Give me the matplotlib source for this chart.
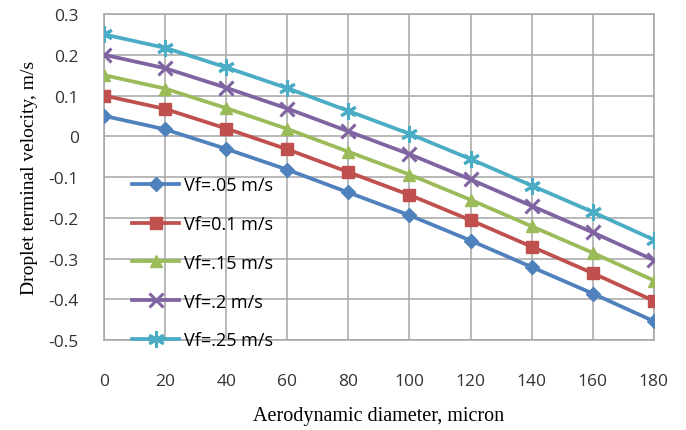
import matplotlib.pyplot as plt

# data
diameter = [0, 20, 40, 60, 80, 100, 120, 140, 160, 180]
vf_005 = [0.05, 0.017, -0.031, -0.082, -0.138, -0.194, -0.256, -0.321, -0.386, -0.454]
vf_010 = [0.10, 0.067, 0.019, -0.032, -0.088, -0.144, -0.206, -0.271, -0.336, -0.404]
vf_015 = [0.15, 0.117, 0.069, 0.018, -0.038, -0.094, -0.156, -0.221, -0.286, -0.354]
vf_020 = [0.20, 0.167, 0.119, 0.068, 0.012, -0.044, -0.106, -0.171, -0.236, -0.304]
vf_025 = [0.25, 0.217, 0.169, 0.118, 0.062, 0.006, -0.056, -0.121, -0.186, -0.254]
labels = ['Vf=.05 m/s', 'Vf=0.1 m/s', 'Vf=.15 m/s', 'Vf=.2 m/s', 'Vf=.25 m/s']
y_ticks = [0.3, 0.2, 0.1, 0, -0.1, -0.2, -0.3, -0.4, -0.5]
y_tick_labels = ['0.3', '0.2', '0.1', '0', '-0.1', '-0.2', '-0.3', '-0.4', '-0.5']

series = [vf_005, vf_010, vf_015, vf_020, vf_025]
colors = ['#4F81BD', '#C0504D', '#9BBB59', '#8064A2', '#4BACC6']
markers = ['D', 's', '^', 'x', (6, 2, 0)]
msizes = [7, 9, 9, 10, 12]

fig = plt.figure(figsize=(6.86, 4.31), dpi=100)
ax = fig.add_axes([0.1516, 0.2088, 0.8016, 0.7564])

for vals, lab, c, m, ms in zip(series, labels, colors, markers, msizes):
    ax.plot(diameter, vals, color=c, lw=2.7, marker=m, markersize=ms,
            markeredgewidth=2.2 if m in ('x', (6, 2, 0)) else 1,
            markeredgecolor=c, label=lab, zorder=3)

ax.set_xlim(0, 180)
ax.set_ylim(-0.5, 0.3)
ax.set_xticks(diameter)
ax.set_yticks(y_ticks)
ax.set_yticklabels(y_tick_labels)
ax.grid(True, color='#A6A6A6', lw=1.1)
for s in ax.spines.values():
    s.set_color('#A6A6A6')
    s.set_linewidth(1.1)
ax.tick_params(length=0, labelsize=12.5, labelcolor='#333333')
ax.tick_params(axis='x', pad=24)
ax.tick_params(axis='y', pad=18)
for t in ax.get_xticklabels() + ax.get_yticklabels():
    t.set_fontfamily('Open Sans')

ax.set_xlabel('Aerodynamic diameter, micron', family='Liberation Serif',
              fontsize=14.5, labelpad=12)
ax.set_ylabel('Droplet terminal velocity, m/s', family='Liberation Serif',
              fontsize=14, labelpad=8)

leg = ax.legend(loc='upper left', bbox_to_anchor=(0.035, 0.53), frameon=False,
                handlelength=2.6, handletextpad=0.25, labelspacing=1.15,
                borderpad=0, prop={'family': 'Open Sans', 'size': 13})

fig.savefig('out.png', dpi=100)
